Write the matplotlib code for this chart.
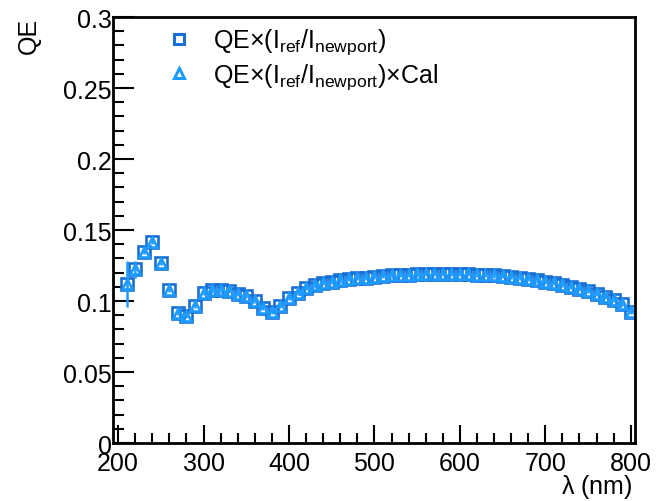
import matplotlib
matplotlib.use("Agg")
import matplotlib.pyplot as plt
from matplotlib.ticker import MultipleLocator
from matplotlib.lines import Line2D

plt.rcParams['font.family'] = ['Liberation Sans', 'DejaVu Sans']
plt.rcParams['mathtext.fontset'] = 'custom'
plt.rcParams['mathtext.rm'] = 'Liberation Sans'
plt.rcParams['mathtext.it'] = 'Liberation Sans'

wavelength = [210, 220, 230, 240, 250, 260, 270, 280, 290, 300,
              310, 320, 330, 340, 350, 360, 370, 380, 390, 400,
              410, 420, 430, 440, 450, 460, 470, 480, 490, 500,
              510, 520, 530, 540, 550, 560, 570, 580, 590, 600,
              610, 620, 630, 640, 650, 660, 670, 680, 690, 700,
              710, 720, 730, 740, 750, 760, 770, 780, 790, 800]
qe = [0.112, 0.1225, 0.1345, 0.1415, 0.127, 0.108, 0.0915, 0.0895, 0.0965, 0.1055,
      0.1075, 0.1075, 0.107, 0.105, 0.1035, 0.100, 0.095, 0.0925, 0.0965, 0.102,
      0.106, 0.109, 0.111, 0.1125, 0.1135, 0.1145, 0.1155, 0.116, 0.1165, 0.117,
      0.1175, 0.118, 0.1182, 0.1185, 0.1187, 0.1188, 0.1188, 0.119, 0.1192, 0.119,
      0.1188, 0.1185, 0.1182, 0.118, 0.1175, 0.117, 0.1162, 0.1155, 0.1145, 0.1135,
      0.1125, 0.1115, 0.110, 0.1085, 0.107, 0.105, 0.103, 0.1005, 0.098, 0.0925]
cal_factor = [1.0] * len(qe)
qe_cal = [q * c for q, c in zip(qe, cal_factor)]
qe_cal_err = [0.016, 0.006] + [0.0015] * (len(qe) - 2)

label_sq = r'QE$\times$(I$_{\mathrm{ref}}$/I$_{\mathrm{newport}}$)'
label_tri = r'QE$\times$(I$_{\mathrm{ref}}$/I$_{\mathrm{newport}}$)$\times$Cal'

c_sq = '#1a6fd2'
c_tri = '#1e9bff'
FS = 18

fig = plt.figure(figsize=(6.64, 5.02), dpi=100)
ax = fig.add_axes([0.1702, 0.1155, 0.7861, 0.8485])

ax.plot(wavelength, qe, linestyle='none', marker='s', markersize=8.5,
        markerfacecolor='none', markeredgecolor=c_sq, markeredgewidth=1.9)
ax.errorbar(wavelength, qe_cal, yerr=qe_cal_err, linestyle='none', marker='^',
            markersize=7.5, markerfacecolor='none', markeredgecolor=c_tri,
            markeredgewidth=1.9, ecolor=c_tri, elinewidth=1.8, capsize=0)

ax.set_xlim(194, 805)
ax.set_ylim(0, 0.3)
ax.xaxis.set_major_locator(MultipleLocator(100))
ax.xaxis.set_minor_locator(MultipleLocator(20))
ax.yaxis.set_minor_locator(MultipleLocator(0.01))
ax.set_yticks([0, 0.05, 0.1, 0.15, 0.2, 0.25, 0.3])
ax.set_yticklabels(['0', '0.05', '0.1', '0.15', '0.2', '0.25', '0.3'])

ax.tick_params(axis='both', which='both', direction='in', width=1.5,
               labelsize=FS, top=False, right=False)
ax.tick_params(axis='x', which='major', length=13, pad=6)
ax.tick_params(axis='x', which='minor', length=7)
ax.tick_params(axis='y', which='major', length=15, pad=1)
ax.tick_params(axis='y', which='minor', length=8)
for s in ax.spines.values():
    s.set_linewidth(2)

ax.set_xlabel(r'$\lambda$ (nm)', fontsize=FS, ha='right', va='top')
ax.xaxis.set_label_coords(0.995, -0.068)
ax.set_ylabel('QE', fontsize=FS, loc='top', labelpad=16)

handles = [
    Line2D([], [], linestyle='none', marker='s', markersize=7,
           markerfacecolor='none', markeredgecolor=c_sq, markeredgewidth=2.2),
    Line2D([], [], linestyle='none', marker='^', markersize=7.5,
           markerfacecolor='none', markeredgecolor=c_tri, markeredgewidth=2.2),
]
leg = ax.legend(handles, [label_sq, label_tri], loc='upper left',
                bbox_to_anchor=(0.055, 1.03), frameon=False,
                fontsize=FS, handletextpad=0.75, labelspacing=0.2,
                handlelength=1.2)

fig.savefig('out.png', dpi=100)
